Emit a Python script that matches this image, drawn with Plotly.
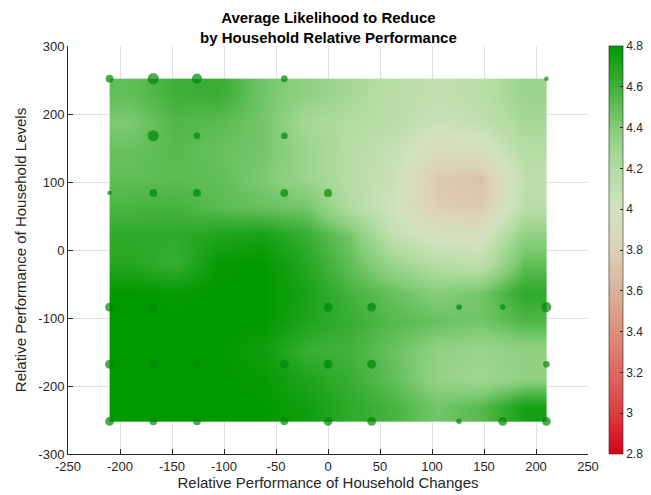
import plotly.graph_objects as go

# ---- data ----
# surface cells (edges in x and y), values = average likelihood to reduce
x_edges = [-210, -168, -126, -84, -42, 0, 42, 84, 126, 168, 210]
y_edges = [-252, -210, -168, -126, -84, -42, 0, 42, 84, 126, 168, 210, 252]
z_rows = [
    [4.80, 4.80, 4.80, 4.80, 4.75, 4.65, 4.57, 4.45, 4.53, 4.73],  # y=-231
    [4.80, 4.80, 4.80, 4.78, 4.70, 4.62, 4.50, 4.33, 4.27, 4.35],  # y=-189
    [4.80, 4.80, 4.80, 4.75, 4.62, 4.58, 4.48, 4.35, 4.30, 4.35],  # y=-147
    [4.80, 4.80, 4.80, 4.80, 4.70, 4.62, 4.53, 4.48, 4.45, 4.55],  # y=-105
    [4.80, 4.78, 4.80, 4.80, 4.72, 4.58, 4.48, 4.38, 4.45, 4.65],  # y=-63
    [4.68, 4.62, 4.78, 4.80, 4.68, 4.50, 4.30, 4.17, 4.12, 4.50],  # y=-21
    [4.65, 4.65, 4.70, 4.73, 4.62, 4.45, 4.10, 3.97, 3.97, 4.35],  # y=21
    [4.57, 4.58, 4.52, 4.48, 4.45, 4.20, 4.02, 3.78, 3.74, 4.15],  # y=63
    [4.50, 4.52, 4.50, 4.42, 4.30, 4.17, 4.06, 3.74, 3.70, 4.12],  # y=105
    [4.48, 4.53, 4.48, 4.45, 4.30, 4.17, 4.08, 3.92, 3.95, 4.18],  # y=147
    [4.42, 4.55, 4.52, 4.45, 4.25, 4.20, 4.15, 4.05, 4.10, 4.25],  # y=189
    [4.50, 4.60, 4.62, 4.45, 4.35, 4.25, 4.15, 4.10, 4.15, 4.30],  # y=231
]

# observed household groups
pt_x = [-210, -168, -126, -42, 210,
        -168, -126, -42,
        -210, -168, -126, -42, 0,
        -210, -168, 0, 42, 126, 168, 210,
        -210, -168, -126, -42, 0, 42, 210,
        -210, -168, -126, -42, 0, 42, 126, 168, 210]
pt_y = [252, 252, 252, 252, 252,
        168, 168, 168,
        84, 84, 84, 84, 84,
        -84, -84, -84, -84, -84, -84, -84,
        -168, -168, -168, -168, -168, -168, -168,
        -252, -252, -252, -252, -252, -252, -252, -252, -252]
pt_n = [49, 100, 81, 36, 16,
        100, 36, 36,
        16, 49, 49, 49, 49,
        64, 49, 64, 64, 25, 25, 81,
        64, 49, 36, 64, 64, 64, 36,
        64, 49, 49, 49, 64, 64, 25, 64, 64]

x_ticks = [-250, -200, -150, -100, -50, 0, 50, 100, 150, 200, 250]
y_ticks = [-300, -200, -100, 0, 100, 200, 300]
cb_ticks = [2.8, 3.0, 3.2, 3.4, 3.6, 3.8, 4.0, 4.2, 4.4, 4.6, 4.8]

colorscale = [
    [0.0, "rgb(214,0,24)"],
    [0.1, "rgb(219,62,62)"],
    [0.2, "rgb(222,104,96)"],
    [0.3, "rgb(220,143,122)"],
    [0.4, "rgb(217,178,152)"],
    [0.5, "rgb(221,210,186)"],
    [0.6, "rgb(211,226,193)"],
    [0.7, "rgb(178,220,160)"],
    [0.8, "rgb(132,205,120)"],
    [0.9, "rgb(62,176,56)"],
    [1.0, "rgb(0,153,0)"],
]

FONT = "Liberation Sans, Arial, Helvetica, sans-serif"
AX = "rgb(38,38,38)"


def label(v):
    return f"{v:g}"


fig = go.Figure()
fig.add_trace(go.Heatmap(
    x=x_edges, y=y_edges, z=z_rows,
    zmin=2.8, zmax=4.8, zsmooth="best",
    colorscale=colorscale,
    colorbar=dict(
        x=1.04, xanchor="left", xref="paper", xpad=0,
        y=0.5, yanchor="middle", len=1.0, lenmode="fraction", ypad=0,
        thickness=14, outlinewidth=0.6, outlinecolor=AX,
        tickvals=cb_ticks, ticktext=[label(v) for v in cb_ticks],
        ticks="inside", ticklen=3, tickcolor=AX,
        tickfont=dict(family=FONT, size=12, color=AX),
    ),
    hoverinfo="skip",
))
fig.add_trace(go.Scatter(
    x=pt_x, y=pt_y, mode="markers",
    marker=dict(size=pt_n, sizemode="area", sizeref=1.6, color="rgb(0,135,8)",
                line=dict(width=0)),
    showlegend=False, hoverinfo="skip",
))

fig.update_layout(
    width=651, height=495,
    margin=dict(l=68, r=63, t=46, b=41, autoexpand=False),
    paper_bgcolor="white", plot_bgcolor="white",
    font=dict(family=FONT, color=AX),
    showlegend=False,
    annotations=[dict(
        text="<b>Average Likelihood to Reduce<br>by Household Relative Performance</b>",
        x=0.5, xref="paper", xanchor="center",
        y=1, yref="paper", yanchor="bottom", yshift=-2,
        showarrow=False, align="center",
        font=dict(family=FONT, size=15, color="black"),
    )],
)
fig.update_xaxes(
    range=[-250, 250], tickvals=x_ticks, ticktext=[label(v) for v in x_ticks],
    ticks="inside", ticklen=5,
    tickcolor=AX, showline=True, linecolor=AX, linewidth=1,
    showgrid=True, gridcolor="rgb(225,225,225)", gridwidth=1, zeroline=False,
    tickfont=dict(family=FONT, size=13, color=AX),
    title=dict(text="Relative Performance of Household Changes",
               font=dict(family=FONT, size=15, color=AX), standoff=2),
)
fig.update_yaxes(
    range=[-300, 300], tickvals=y_ticks, ticktext=[label(v) for v in y_ticks],
    ticks="inside", ticklen=5,
    tickcolor=AX, showline=True, linecolor=AX, linewidth=1,
    showgrid=True, gridcolor="rgb(225,225,225)", gridwidth=1, zeroline=False,
    tickfont=dict(family=FONT, size=13, color=AX),
    title=dict(text="Relative Performance of Household Levels",
               font=dict(family=FONT, size=15, color=AX), standoff=8),
)

fig.write_html("out.html")
